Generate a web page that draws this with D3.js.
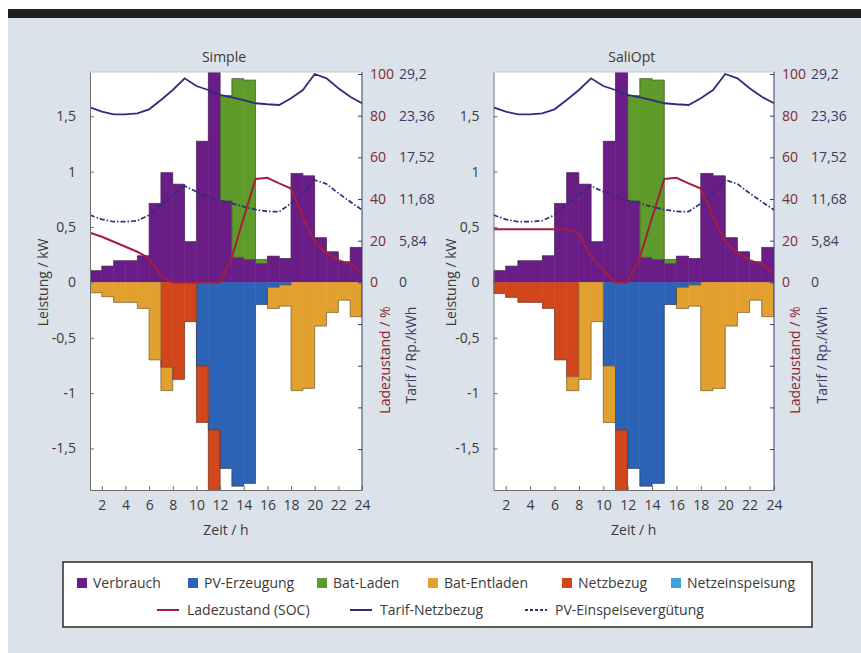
<!DOCTYPE html>
<html>
<head>
<meta charset="utf-8">
<script src="https://cdnjs.cloudflare.com/ajax/libs/d3/7.8.5/d3.min.js"></script>
<style>
  body { margin: 0; background: #fff; }
  text { font-family: "Open Sans", sans-serif; }
</style>
</head>
<body>
<svg id="chart" width="861" height="653"></svg>
<script>
// hours of the bars (each bar spans h .. h+1) and the points of the lines
var hours = [1, 2, 3, 4, 5, 6, 7, 8, 9, 10, 11, 12, 13, 14, 15, 16, 17, 18, 19, 20, 21, 22, 23];
var linePts = [1, 2, 3, 4, 5, 6, 7, 8, 9, 10, 11, 12, 13, 14, 15, 16, 17, 18, 19, 20, 21, 22, 23, 24];
var xTicks = [2, 4, 6, 8, 10, 12, 14, 16, 18, 20, 22, 24];
var kwTicks = [-1.5, -1, -0.5, 0, 0.5, 1, 1.5];
var socTicks = [-80, -60, -40, -20, 0, 20, 40, 60, 80, 100];
var tarifTicks = [0, 5.84, 11.68, 17.52, 23.36, 29.2];

// kW, same for both strategies
var verbrauch   = [0.105, 0.147, 0.195, 0.195, 0.24, 0.713, 0.99, 0.887, 0.367, 1.275, 2.0, 0.737, 0.226, 0.207, 0.171, 0.237, 0.216, 0.984, 0.962, 0.403, 0.276, 0.186, 0.316];
var pvErzeugung = [0, 0, 0, 0, 0, 0, 0, 0, 0, 0.755, 1.333, 1.68, 1.84, 1.815, 0.2, 0.045, 0.024, 0, 0, 0, 0, 0, 0];
var batLaden    = [0, 0, 0, 0, 0, 0, 0, 0, 0, 0, 0, 0.95, 1.614, 1.62, 0.036, 0, 0, 0, 0, 0, 0, 0, 0];
var netzeinspeisung = [0, 0, 0, 0, 0, 0, 0, 0, 0, 0, 0, 0, 0, 0, 0, 0, 0, 0, 0, 0, 0, 0, 0];

// Simple
var batEntladenSimple = [0.094, 0.13, 0.18, 0.18, 0.235, 0.70, 0.21, 0, 0, 0, 0, 0, 0, 0, 0, 0.19, 0.19, 0.978, 0.957, 0.394, 0.271, 0.16, 0.31];
var netzbezugSimple   = [0, 0, 0, 0, 0, 0, 0.767, 0.875, 0.355, 0.51, 0.667, 0, 0, 0, 0, 0, 0, 0, 0, 0, 0, 0, 0];
var socSimple = [23.8, 21.9, 19.5, 17.1, 14.7, 11.6, 3, 0, 0, 0, 0, 0, 12, 31, 49.6, 50.2, 47.5, 45, 31.5, 19.5, 14, 10.7, 8.8, 4.4];

// SaliOpt
var batEntladenOpt = [0, 0, 0, 0, 0, 0, 0.126, 0.875, 0.355, 0.51, 0, 0, 0, 0, 0, 0.19, 0.19, 0.978, 0.957, 0.394, 0.271, 0.16, 0.31];
var netzbezugOpt   = [0.1, 0.135, 0.18, 0.18, 0.235, 0.70, 0.852, 0, 0, 0, 0.667, 0, 0, 0, 0, 0, 0, 0, 0, 0, 0, 0, 0];
var socOpt = [25.5, 25.5, 25.5, 25.5, 25.5, 25.5, 25.5, 23.5, 12.3, 6, 0, 0, 12, 31, 49.6, 50.2, 47.5, 45, 31.5, 19.5, 14, 10.7, 8.8, 4.4];

// Rp./kWh
var tarifNetz = [24.53, 23.92, 23.55, 23.55, 23.69, 24.25, 25.55, 26.96, 28.6, 27.52, 26.96, 26.26, 25.94, 25.55, 25.1, 24.96, 24.86, 25.8, 26.96, 29.2, 28.6, 27.2, 26.0, 25.1];
var pvVerguetung = [9.44, 8.83, 8.5, 8.5, 8.64, 9.44, 10.85, 12.25, 13.5, 12.7, 12.0, 11.46, 11.08, 10.6, 10.2, 9.95, 9.9, 11.08, 12.5, 14.35, 13.8, 12.5, 11.3, 10.15];

var colors = {
   "Verbrauch": "#6b1d87",
   "PV-Erzeugung": "#2c63b6",
   "Bat-Laden": "#5f9b2a",
   "Bat-Entladen": "#e2a12f",
   "Netzbezug": "#d1461b",
   "Netzeinspeisung": "#3ba3db"
};
var socColor = "#a51e3f", tarifColor = "#2f2c7e";
var textColor = "#3a3a3a", fs = 14;
// stack order: positives Verbrauch, Bat-Laden, Netzeinspeisung; negatives PV, Netzbezug, Bat-Entladen
var keys = ["Verbrauch", "PV-Erzeugung", "Netzbezug", "Bat-Laden", "Bat-Entladen", "Netzeinspeisung"];

var panels = [
   {title: "Simple", left: 90, right: 362, netz: netzbezugSimple, ent: batEntladenSimple, soc: socSimple,
    ylabX: 43, socLabX: 385, tarLabX: 411},
   {title: "SaliOpt", left: 493.5, right: 774, netz: netzbezugOpt, ent: batEntladenOpt, soc: socOpt,
    ylabX: 451, socLabX: 795, tarLabX: 822}
];

var svg = d3.select("#chart");
var plotTop = 72, plotBottom = 490;

svg.append("rect").attr("x", 8).attr("y", 9).attr("width", 853).attr("height", 644).attr("fill", "#dce2e9");
svg.append("rect").attr("x", 8).attr("y", 9).attr("width", 853).attr("height", 9).attr("fill", "#1f1f1f");

var y = d3.scaleLinear().domain([-1.875, 1.9]).range([plotBottom, plotTop]);
var ySoc = d3.scaleLinear().domain([0, 100]).range([y(0), 74]);
var yTarif = d3.scaleLinear().domain([0, 29.2]).range([y(0), 74]);
var comma = function (d) { return String(d).replace(".", ","); };

// step outline of one stacked series (outer edge of its bars)
function edgePoints(s) {
   var pts = [];
   var nz = function (d) { return d && d[0] !== d[1]; };
   s.forEach(function (d, i) {
      if (!nz(d)) return;
      var h = d.data.hour;
      var neg = d.data[s.key] < 0;
      var outer = neg ? d[0] : d[1], inner = neg ? d[1] : d[0];
      if (!nz(s[i - 1])) pts.push([h, inner]);
      pts.push([h, outer], [h + 1, outer]);
      if (!nz(s[i + 1])) pts.push([h + 1, inner], null);
   });
   return pts;
}

panels.forEach(function (p, pi) {
   var x = d3.scaleLinear().domain([1, 24]).range([p.left, p.right]);
   var g = svg.append("g");

   var table = hours.map(function (h, i) {
      return {
         hour: h,
         "Verbrauch": verbrauch[i],
         "PV-Erzeugung": -pvErzeugung[i],
         "Netzbezug": -p.netz[i],
         "Bat-Laden": batLaden[i],
         "Bat-Entladen": -p.ent[i],
         "Netzeinspeisung": netzeinspeisung[i]
      };
   });
   var series = d3.stack().keys(keys).offset(d3.stackOffsetDiverging)(table);

   g.append("rect")
    .attr("x", p.left).attr("y", plotTop)
    .attr("width", p.right - p.left).attr("height", plotBottom - plotTop)
    .attr("fill", "#fff");

   g.append("defs").append("clipPath")
    .attr("id", "clip" + pi)
    .append("rect")
    .attr("x", p.left).attr("y", plotTop)
    .attr("width", p.right - p.left).attr("height", plotBottom - plotTop);

   var plot = g.append("g").attr("clip-path", "url(#clip" + pi + ")");

   plot.selectAll("g.series")
       .data(series)
       .join("g")
       .attr("class", "series")
       .attr("fill", function (s) { return colors[s.key]; })
       .attr("stroke", function (s) { return colors[s.key]; })
       .attr("stroke-width", 0.5)
       .selectAll("rect")
       .data(function (s) { return s.filter(function (d) { return d[0] !== d[1]; }); })
       .join("rect")
       .attr("x", function (d) { return x(d.data.hour); })
       .attr("width", function (d) { return x(d.data.hour + 1) - x(d.data.hour); })
       .attr("y", function (d) { return y(Math.max(d[0], d[1])); })
       .attr("height", function (d) { return Math.abs(y(d[0]) - y(d[1])); });

   var edge = d3.line()
                .defined(function (d) { return d !== null; })
                .x(function (d) { return x(d[0]); })
                .y(function (d) { return y(d[1]); });
   plot.selectAll("path.edge")
       .data(series)
       .join("path")
       .attr("class", "edge")
       .attr("d", function (s) { return edge(edgePoints(s)); })
       .attr("fill", "none")
       .attr("stroke", "#333")
       .attr("stroke-opacity", 0.65)
       .attr("stroke-width", 0.7);

   var lineOf = function (scale) {
      return d3.line()
               .x(function (d, i) { return x(linePts[i]); })
               .y(function (d) { return scale(d); });
   };

   plot.append("path").datum(pvVerguetung)
       .attr("d", lineOf(yTarif))
       .attr("fill", "none").attr("stroke", tarifColor)
       .attr("stroke-width", 1.7).attr("stroke-dasharray", "5,2,1.5,2");

   plot.append("path").datum(tarifNetz)
       .attr("d", lineOf(yTarif))
       .attr("fill", "none").attr("stroke", tarifColor).attr("stroke-width", 1.8);

   plot.append("path").datum(p.soc)
       .attr("d", lineOf(ySoc))
       .attr("fill", "none").attr("stroke", socColor).attr("stroke-width", 2);

   // frame top
   g.append("line")
    .attr("x1", p.left).attr("x2", p.right).attr("y1", plotTop).attr("y2", plotTop)
    .attr("stroke", "#c8c8c8").attr("stroke-width", 1);

   // left axis
   var ax = g.append("g")
             .attr("transform", "translate(" + p.left + ",0)")
             .call(d3.axisLeft(y).tickValues(kwTicks).tickSize(-4).tickSizeOuter(0).tickPadding(14).tickFormat(comma));
   ax.select(".domain").attr("stroke", "#6f6f6f");
   ax.selectAll(".tick line").attr("stroke", "#6f6f6f");
   ax.selectAll("text").attr("font-size", fs).attr("fill", textColor).attr("font-family", "Open Sans");

   // bottom axis
   var bx = g.append("g")
             .attr("transform", "translate(0," + plotBottom + ")")
             .call(d3.axisBottom(x).tickValues(xTicks).tickSize(-4).tickSizeOuter(0).tickPadding(10));
   bx.select(".domain").attr("stroke", "#6f6f6f");
   bx.selectAll(".tick line").attr("stroke", "#6f6f6f");
   bx.selectAll("text").attr("font-size", fs).attr("fill", textColor).attr("font-family", "Open Sans");

   // right axis: SOC
   var rx = g.append("g")
             .attr("transform", "translate(" + p.right + ",0)")
             .call(d3.axisRight(ySoc).tickValues(socTicks).tickSize(-4).tickSizeOuter(0).tickPadding(8)
                     .tickFormat(function (d) { return d >= 0 ? d : ""; }));
   rx.select(".domain").attr("stroke", "#3b3872").attr("d", "M0," + plotTop + "V" + plotBottom);
   rx.selectAll(".tick line").attr("stroke", "#3b3872");
   rx.selectAll("text").attr("font-size", fs).attr("fill", "#7e2b35").attr("font-family", "Open Sans");

   // right axis: tariff labels
   var tx = g.append("g")
             .attr("transform", "translate(" + (p.right + 37) + ",0)")
             .call(d3.axisRight(yTarif).tickValues(tarifTicks).tickSize(0).tickPadding(0).tickFormat(comma));
   tx.select(".domain").remove();
   tx.selectAll("text").attr("font-size", fs).attr("fill", "#3d3b63").attr("font-family", "Open Sans");

   var mid = (p.left + p.right) / 2;
   g.append("text").attr("x", mid - 2).attr("y", 62)
    .attr("text-anchor", "middle").attr("font-size", fs).attr("fill", textColor).text(p.title);
   g.append("text").attr("x", mid).attr("y", 535)
    .attr("text-anchor", "middle").attr("font-size", fs).attr("fill", textColor).text("Zeit / h");
   g.append("text")
    .attr("transform", "translate(" + p.ylabX + "," + y(0) + ") rotate(-90)")
    .attr("text-anchor", "middle").attr("dy", "0.35em")
    .attr("font-size", fs).attr("fill", textColor).text("Leistung / kW");
   g.append("text")
    .attr("transform", "translate(" + p.socLabX + ",360) rotate(-90)")
    .attr("text-anchor", "middle").attr("dy", "0.35em")
    .attr("font-size", fs).attr("fill", "#8a2636").text("Ladezustand / %");
   g.append("text")
    .attr("transform", "translate(" + p.tarLabX + ",355) rotate(-90)")
    .attr("text-anchor", "middle").attr("dy", "0.35em")
    .attr("font-size", fs).attr("fill", "#3d3b63").text("Tarif / Rp./kWh");
});

// legend
var legend = svg.append("g");
legend.append("rect")
      .attr("x", 63).attr("y", 562).attr("width", 749).attr("height", 65)
      .attr("fill", "#fff").attr("stroke", "#2a2a2a").attr("stroke-width", 1.5);

var boxItems = [
   {key: "Verbrauch", x: 77},
   {key: "PV-Erzeugung", x: 188},
   {key: "Bat-Laden", x: 317},
   {key: "Bat-Entladen", x: 428},
   {key: "Netzbezug", x: 562},
   {key: "Netzeinspeisung", x: 671}
];
boxItems.forEach(function (it) {
   legend.append("rect").attr("x", it.x).attr("y", 578).attr("width", 10).attr("height", 10)
         .attr("fill", colors[it.key]);
   legend.append("text").attr("x", it.x + 16).attr("y", 583).attr("dy", "0.35em")
         .attr("font-size", fs).attr("fill", textColor).text(it.key);
});

var lineItems = [
   {label: "Ladezustand (SOC)", x: 157, color: socColor, dash: null},
   {label: "Tarif-Netzbezug", x: 350, color: tarifColor, dash: null},
   {label: "PV-Einspeisevergütung", x: 525, color: tarifColor, dash: "3,2"}
];
lineItems.forEach(function (it) {
   legend.append("line").attr("x1", it.x).attr("x2", it.x + 22).attr("y1", 610).attr("y2", 610)
         .attr("stroke", it.color).attr("stroke-width", 2)
         .attr("stroke-dasharray", it.dash);
   legend.append("text").attr("x", it.x + 30).attr("y", 610).attr("dy", "0.35em")
         .attr("font-size", fs).attr("fill", textColor).text(it.label);
});
</script>
</body>
</html>
